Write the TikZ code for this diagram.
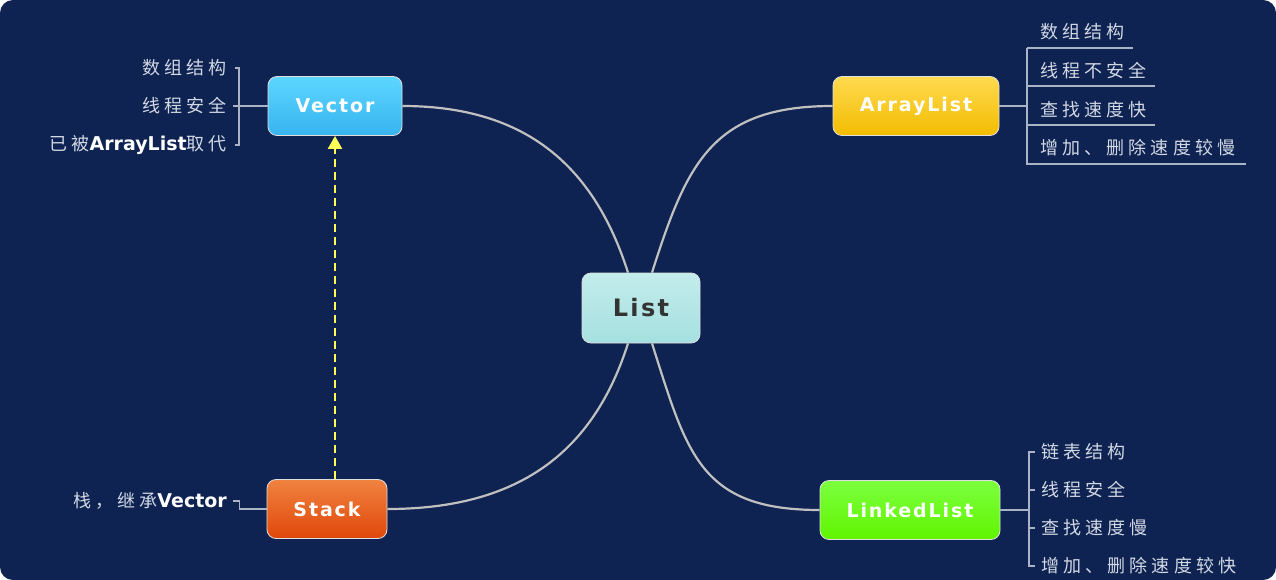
\documentclass[tikz,border=0pt]{standalone}
\usepackage{fontspec}
\setmainfont{DejaVu Sans}
\newfontfamily\cjk[LetterSpace=23]{Noto Sans CJK SC}
\newfontfamily\latfont{DejaVu Sans}
\newfontfamily\boxfont[LetterSpace=10]{DejaVu Sans}
\usetikzlibrary{arrows.meta}

\definecolor{navy}{RGB}{14,35,82}
\definecolor{labelgray}{RGB}{210,216,228}
\definecolor{linkgray}{RGB}{192,192,192}
\newcommand{\lat}[1]{{\latfont\bfseries\fontsize{19}{21}\selectfont\color{white}#1}}

\tikzset{
	topic/.style={rounded corners=9pt, draw=white!75!gray, line width=0.8pt,
		minimum height=59pt, font=\boxfont\bfseries\fontsize{19}{22}\selectfont, text=white},
	leaf/.style={font=\cjk\fontsize{18}{21}\selectfont, text=labelgray, inner sep=2pt},
	branch/.style={draw=linkgray, line width=2.2pt},
	twig/.style={draw=labelgray!80!navy, line width=1.2pt},
}

\begin{document}
\begin{tikzpicture}[x=1pt,y=-1pt]
	\useasboundingbox (0,0) rectangle (1276,580);
	\fill[white] (0,0) rectangle (1276,580);
	\fill[navy, rounded corners=13pt] (0,0) rectangle (1276,580);

	% topics
	\node[topic, minimum width=118pt, minimum height=70pt, top color=cyan!10!white!85!teal, bottom color=cyan!30!teal!35!white,
		text=black!80, font=\boxfont\bfseries\fontsize{24}{27}\selectfont] (List) at (641,308) {List};
	\node[topic, minimum width=134pt, top color={rgb,255:red,92;green,214;blue,255}, bottom color={rgb,255:red,56;green,180;blue,240}] (Vector) at (335,106) {Vector};
	\node[topic, minimum width=166pt, top color={rgb,255:red,255;green,218;blue,80}, bottom color={rgb,255:red,242;green,188;blue,0}] (ArrayList) at (916,106) {ArrayList};
	\node[topic, minimum width=120pt, top color={rgb,255:red,240;green,130;blue,64}, bottom color={rgb,255:red,224;green,72;blue,10}] (Stack) at (327,509) {Stack};
	\node[topic, minimum width=180pt, top color={rgb,255:red,124;green,255;blue,64}, bottom color={rgb,255:red,96;green,245;blue,0}] (LinkedList) at (910,510) {LinkedList};

	\coordinate (Lnw) at ([xshift=-13pt]List.north);
	\coordinate (Lne) at ([xshift=11pt]List.north);
	\coordinate (Lsw) at ([xshift=-13pt]List.south);
	\coordinate (Lse) at ([xshift=11pt]List.south);

	% branches
	\draw[branch] (Vector.east) .. controls +(120,0) and +(-35,-110) .. (Lnw);
	\draw[branch] (ArrayList.west) .. controls +(-120,0) and +(35,-110) .. (Lne);
	\draw[branch] (Stack.east) .. controls +(130,0) and +(-35,110) .. (Lsw);
	\draw[branch] (LinkedList.west) .. controls +(-120,0) and +(35,110) .. (Lse);

	% inheritance
	\draw[draw={rgb,255:red,255;green,255;blue,85}, line width=2pt, dash pattern=on 8pt off 5pt,
		-{Triangle[width=14pt,length=13pt]}] ([xshift=8pt]Stack.north) -- ([xshift=8pt]Stack.north |- Vector.south);

	% Vector leaves
	\node[leaf, anchor=east] (v1) at (229,68) {数组结构};
	\node[leaf, anchor=east] (v2) at (229,106) {线程安全};
	\node[leaf, anchor=east] (v3) at (229,145) {已被\lat{ArrayList}取代};
	\draw[twig] ([xshift=6pt]v1.east) -- ++(4,0) |- ([xshift=6pt]v3.east);
	\draw[twig] ([xshift=4pt]v2.east) -- (Vector.west);

	% ArrayList leaves
	\node[leaf, anchor=west] (a1) at (1038,32) {数组结构};
	\node[leaf, anchor=west] (a2) at (1038,71) {线程不安全};
	\node[leaf, anchor=west] (a3) at (1038,110) {查找速度快};
	\node[leaf, anchor=west] (a4) at (1038,148) {增加、删除速度较慢};
	\coordinate (aTop) at (1027,48);
	\draw[twig] (aTop) -- ([xshift=6pt]a1.east |- aTop);
	\draw[twig] (aTop) |- ([xshift=8pt,yshift=-16pt]a4.east);
	\draw[twig] ([yshift=-15pt]aTop |- a2.east) -- ([xshift=6pt,yshift=-15pt]a2.east);
	\draw[twig] ([yshift=-15pt]aTop |- a3.east) -- ([xshift=6pt,yshift=-15pt]a3.east);
	\draw[twig] (ArrayList.east) -- (aTop |- ArrayList.east);

	% Stack leaf
	\node[leaf, anchor=east] (s1) at (229,501) {栈，继承\lat{Vector}};
	\draw[twig] (Stack.west) -- ++(-27,0) |- ([xshift=4pt]s1.east);

	% LinkedList leaves
	\node[leaf, anchor=west] (k1) at (1039,452) {链表结构};
	\node[leaf, anchor=west] (k2) at (1039,490) {线程安全};
	\node[leaf, anchor=west] (k3) at (1039,528) {查找速度慢};
	\node[leaf, anchor=west] (k4) at (1039,566) {增加、删除速度较快};
	\coordinate (kBar) at (1029,452);
	\draw[twig] ([xshift=-4pt]k1.west) -- (kBar) |- ([xshift=-4pt]k4.west);
	\draw[twig] ([xshift=-4pt]k2.west) -- (kBar |- k2.west);
	\draw[twig] ([xshift=-4pt]k3.west) -- (kBar |- k3.west);
	\draw[twig] (LinkedList.east) -- (kBar |- LinkedList.east);
\end{tikzpicture}
\end{document}
